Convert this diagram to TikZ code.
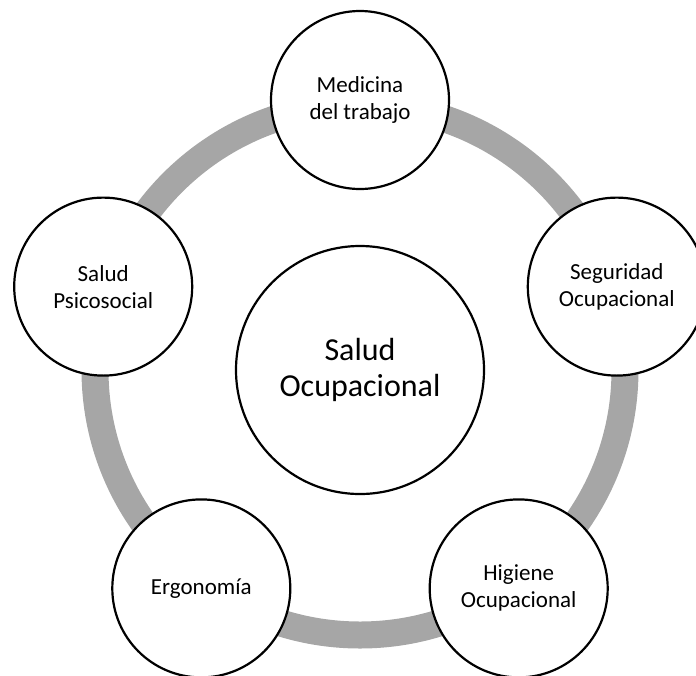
\documentclass[tikz,border=0pt]{standalone}
\usepackage{fontspec}
\setmainfont{Carlito}
\usetikzlibrary{calc}
\definecolor{ringgray}{HTML}{A6A6A6}
\tikzset{
  ring/.style={draw=ringgray, line width=27pt},
  topic/.style={circle, draw=black, line width=2.2pt, fill=white, minimum size=178pt, inner sep=0pt, align=center, font=\fontsize{23}{27}\selectfont},
  core/.style={circle, draw=black, line width=2.2pt, fill=white, minimum size=248pt, inner sep=0pt, align=center, font=\fontsize{32}{36}\selectfont}
}
\begin{document}
\begin{tikzpicture}[x=1pt,y=-1pt]
\useasboundingbox (0,0) rectangle (696,675);
\coordinate (c) at (360,370);
\draw[ring] (c) circle[radius=265pt];
\node[core] (so) at (c) {Salud\\Ocupacional};
\node[topic] (med) at ($(c)+(0,-270)$) {Medicina\\del trabajo};
\node[topic] (seg) at ($(c)+(256.8,-83.4)$) {Seguridad\\Ocupacional};
\node[topic] (hig) at ($(c)+(158.7,218.4)$) {Higiene\\Ocupacional};
\node[topic] (erg) at ($(c)+(-158.7,218.4)$) {Ergonomía};
\node[topic] (psi) at ($(c)+(-256.8,-83.4)$) {Salud\\Psicosocial};
\end{tikzpicture}
\end{document}
